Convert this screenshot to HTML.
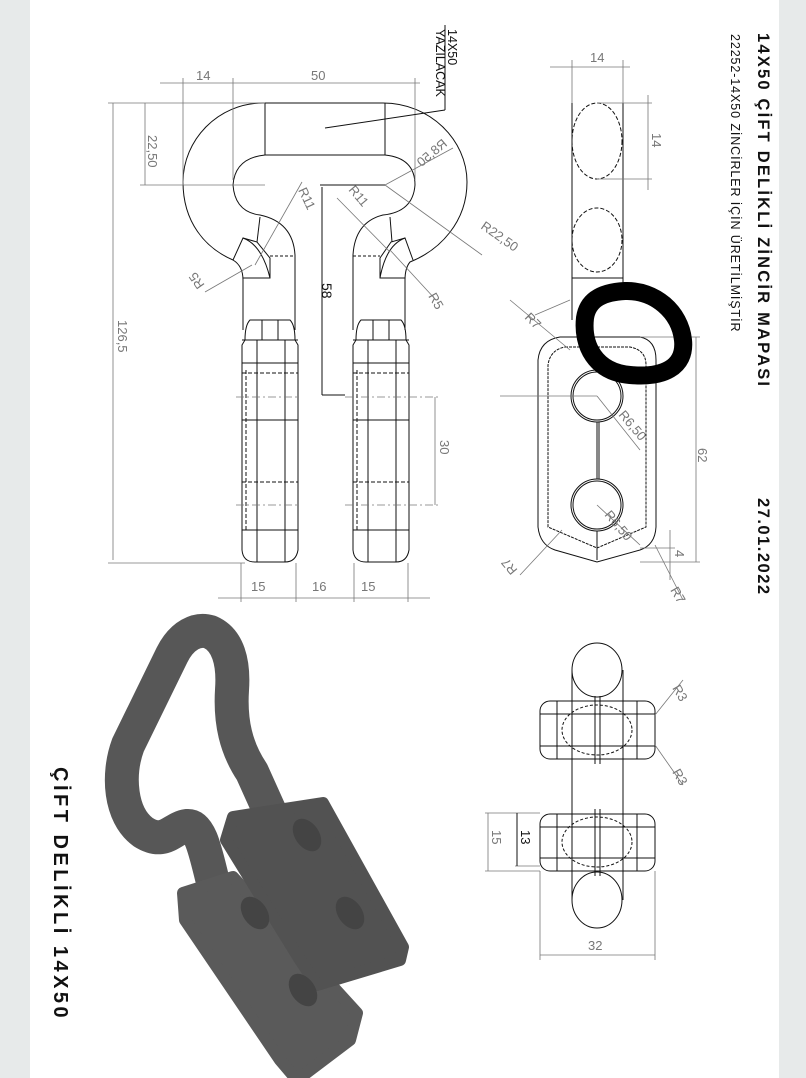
<!DOCTYPE html>
<html><head><meta charset="utf-8"><style>
html,body{margin:0;padding:0;background:#e7eaea;}
svg{display:block}
text{font-family:"Liberation Sans",sans-serif;}
</style></head><body>
<svg width="806" height="1078" viewBox="0 0 806 1078" xmlns="http://www.w3.org/2000/svg">
<rect x="0" y="0" width="806" height="1078" fill="#e7eaea"/>
<rect x="30" y="0" width="749" height="1078" fill="#ffffff"/>

<!-- FRONT VIEW -->
<g fill="none" stroke="#111" stroke-width="1">
  <path d="M263,103 L383,103 C430,103 467,140 467,182 C467,222 440,250 410,262 Q405,268 405,280 L405,330"/>
  <path d="M263,103 C218,103 183,140 183,182 C183,222 205,248 233,260 Q243,266 243,280 L243,330"/>
  <path d="M265,155 L385,155 Q415,158 415,185 Q413,212 383,215 Q355,222 353,255 L353,330"/>
  <path d="M265,155 Q235,158 233,185 Q235,212 260,215 Q293,222 295,255 L295,330"/>
  <line x1="265" y1="103" x2="265" y2="155"/><line x1="385" y1="103" x2="385" y2="155"/>
  <path d="M233,260 L243,238 L257,242 L270,258 L270,278 L243,278"/>
  <path d="M243,238 Q262,245 270,278"/>
  <line x1="260" y1="217" x2="257" y2="242"/>
  <path d="M413,260 L405,238 L391,242 L380,258 L380,278 L405,278"/>
  <path d="M405,238 Q386,245 380,278"/>
  <line x1="390" y1="217" x2="392" y2="242"/>
  <line x1="270" y1="256" x2="295" y2="256" stroke-dasharray="3,2"/><line x1="353" y1="256" x2="380" y2="256" stroke-dasharray="3,2"/>
  <g id="bar">
  <path d="M250,320 L290,320 Q295,325 295,340 L298,345 L298,550 Q296,562 285,562 L255,562 Q243,562 242,550 L242,345 L245,340 Q245,325 250,320 Z"/>
  <line x1="242" y1="340" x2="298" y2="340"/>
  <line x1="257" y1="340" x2="257" y2="562"/><line x1="285" y1="340" x2="285" y2="562"/>
  <line x1="262" y1="320" x2="262" y2="340"/><line x1="278" y1="320" x2="278" y2="340"/>
  <line x1="242" y1="363" x2="298" y2="363"/>
  <line x1="242" y1="420" x2="298" y2="420"/>
  <line x1="242" y1="530" x2="298" y2="530"/>
  <line x1="242" y1="373" x2="298" y2="373" stroke-dasharray="4,2"/>
  <line x1="242" y1="482" x2="298" y2="482" stroke-dasharray="4,2"/>
  <line x1="246" y1="370" x2="246" y2="530" stroke-dasharray="4,2"/>
  </g>
  <use href="#bar" transform="translate(111,0)"/>
</g>
<g fill="none" stroke="#777" stroke-width="0.8">
  <line x1="160" y1="83" x2="420" y2="83"/>
  <line x1="183" y1="78" x2="183" y2="185"/><line x1="233" y1="78" x2="233" y2="180"/><line x1="415" y1="78" x2="415" y2="180"/>
  <line x1="108" y1="103" x2="265" y2="103"/>
  <line x1="113" y1="103" x2="113" y2="560"/><line x1="108" y1="563" x2="245" y2="563"/>
  <line x1="145" y1="103" x2="145" y2="185"/><line x1="140" y1="185" x2="265" y2="185"/>
  <line x1="236" y1="397" x2="300" y2="397" stroke-dasharray="8,3,2,3"/><line x1="345" y1="397" x2="440" y2="397" stroke-dasharray="8,3,2,3"/>
  <line x1="236" y1="505" x2="300" y2="505" stroke-dasharray="8,3,2,3"/><line x1="345" y1="505" x2="440" y2="505" stroke-dasharray="8,3,2,3"/>
  <line x1="435" y1="397" x2="435" y2="505"/>
  <line x1="218" y1="598" x2="430" y2="598"/>
  <line x1="241" y1="563" x2="241" y2="602"/><line x1="296" y1="563" x2="296" y2="602"/><line x1="354" y1="563" x2="354" y2="602"/><line x1="408" y1="563" x2="408" y2="602"/>
  <line x1="385" y1="185" x2="482" y2="255"/><line x1="385" y1="185" x2="453" y2="148"/>
  <line x1="302" y1="182" x2="255" y2="265"/><line x1="205" y1="292" x2="252" y2="265"/>
  <line x1="337" y1="198" x2="390" y2="252"/><line x1="390" y1="250" x2="436" y2="300"/>
</g>
<g fill="none" stroke="#111" stroke-width="1">
  <line x1="320" y1="185" x2="385" y2="185"/><line x1="322" y1="187" x2="322" y2="395"/><line x1="322" y1="395" x2="345" y2="395"/>
  <line x1="325" y1="128" x2="445" y2="110"/><line x1="445" y1="110" x2="445" y2="25"/>
</g>
<g fill="#777" font-size="13">
  <text x="196" y="80">14</text><text x="311" y="80">50</text>
  <text x="251" y="591">15</text><text x="312" y="591">16</text><text x="361" y="591">15</text>
  <text transform="translate(148,135) rotate(90)">22,50</text>
  <text transform="translate(118,320) rotate(90)">126,5</text>
  <text transform="translate(440,440) rotate(90)">30</text>
  <text transform="translate(448,145) rotate(-40) scale(1,-1) rotate(180)">R8,50</text>
  <text transform="translate(480,228) rotate(35)">R22,50</text>
  <text transform="translate(298,190) rotate(65)">R11</text>
  <text transform="translate(348,190) rotate(50)">R11</text>
  <text transform="translate(428,296) rotate(60)">R5</text>
  <text transform="translate(205,285) rotate(-125)">R5</text>
</g>
<text transform="translate(322,283) rotate(90)" font-size="14" fill="#111">58</text>
<text transform="translate(448,29) rotate(90)" font-size="12.5" fill="#111">14X50</text>
<text transform="translate(436,29) rotate(90)" font-size="12.5" fill="#111">YAZILACAK</text>

<!-- SIDE VIEW -->
<g fill="none" stroke="#111" stroke-width="1">
  <line x1="572" y1="103" x2="572" y2="320"/><line x1="623" y1="103" x2="623" y2="290"/>
  <ellipse cx="597" cy="141" rx="25" ry="38" stroke-dasharray="4,2"/>
  <ellipse cx="597" cy="240" rx="25" ry="32" stroke-dasharray="4,2"/>
  <line x1="572" y1="278" x2="623" y2="278"/>
  <path d="M560,337 L640,337 Q656,340 656,360 L656,527 Q655,545 640,550 L597,562 L555,550 Q540,545 538,527 L538,360 Q540,340 560,337 Z"/>
  <path d="M565,347 L630,347 Q646,350 646,365 L646,527 L597,548 L548,527 L548,365 Q550,350 565,347 Z" stroke-dasharray="3,1"/>
  <circle cx="597" cy="396" r="26"/><circle cx="597" cy="396" r="24"/>
  <circle cx="597" cy="505" r="26"/><circle cx="597" cy="505" r="24"/>
  <line x1="597" y1="422" x2="597" y2="479"/><line x1="599" y1="422" x2="599" y2="479"/>
  <line x1="597" y1="531" x2="597" y2="560"/>
</g>
<g fill="none" stroke="#777" stroke-width="0.8">
  <line x1="550" y1="67" x2="630" y2="67"/><line x1="572" y1="60" x2="572" y2="103"/><line x1="623" y1="60" x2="623" y2="103"/>
  <line x1="597" y1="103" x2="652" y2="103"/><line x1="597" y1="179" x2="652" y2="179"/><line x1="648" y1="95" x2="648" y2="190"/>
  <line x1="500" y1="396" x2="597" y2="396"/><line x1="597" y1="396" x2="640" y2="450"/><line x1="597" y1="505" x2="640" y2="545"/>
  <line x1="640" y1="337" x2="700" y2="337"/><line x1="696" y1="337" x2="696" y2="562"/><line x1="640" y1="562" x2="700" y2="562"/>
  <line x1="640" y1="548" x2="675" y2="548"/><line x1="670" y1="530" x2="670" y2="580"/>
  <line x1="520" y1="575" x2="562" y2="530"/><line x1="655" y1="545" x2="683" y2="600"/>
  <line x1="535" y1="315" x2="570" y2="300"/><line x1="510" y1="300" x2="570" y2="350"/>
</g>
<g fill="#777" font-size="13">
  <text x="590" y="62">14</text>
  <text transform="translate(652,133) rotate(90)">14</text>
  <text transform="translate(698,448) rotate(90)">62</text>
  <text transform="translate(675,550) rotate(90)">4</text>
  <text transform="translate(618,415) rotate(50)">R6,50</text>
  <text transform="translate(604,515) rotate(50)">R6,50</text>
  <text transform="translate(524,318) rotate(45)">R7</text>
  <text transform="translate(518,570) rotate(-130)">R7</text>
  <text transform="translate(670,590) rotate(60)">R7</text>
</g>
<path d="M625,291 C655,290 680,312 683,340 C686,368 662,378 630,375 C595,372 582,345 585,318 C588,298 605,292 625,291 Z" fill="none" stroke="#000" stroke-width="18"/>

<!-- BOTTOM VIEW -->
<g fill="none" stroke="#111" stroke-width="1">
  <ellipse cx="597" cy="670" rx="25" ry="27"/>
  <ellipse cx="597" cy="900" rx="25" ry="28"/>
  <line x1="572" y1="670" x2="572" y2="900"/><line x1="623" y1="670" x2="623" y2="900"/>
  <rect x="540" y="701" width="115" height="58" rx="10"/>
  <rect x="540" y="814" width="115" height="57" rx="10"/>
  <line x1="557" y1="701" x2="557" y2="759"/><line x1="637" y1="701" x2="637" y2="759"/>
  <line x1="557" y1="814" x2="557" y2="871"/><line x1="637" y1="814" x2="637" y2="871"/>
  <line x1="540" y1="714" x2="655" y2="714"/><line x1="540" y1="746" x2="655" y2="746"/>
  <line x1="540" y1="827" x2="655" y2="827"/><line x1="540" y1="858" x2="655" y2="858"/>
  <g stroke-dasharray="3,2"><ellipse cx="597" cy="730" rx="35" ry="25"/><ellipse cx="597" cy="842" rx="35" ry="25"/></g>
  <line x1="595" y1="696" x2="595" y2="764"/><line x1="600" y1="696" x2="600" y2="764"/>
  <line x1="595" y1="809" x2="595" y2="876"/><line x1="600" y1="809" x2="600" y2="876"/>
</g>
<g fill="none" stroke="#777" stroke-width="0.8">
  <line x1="540" y1="871" x2="540" y2="960"/><line x1="655" y1="871" x2="655" y2="960"/><line x1="540" y1="955" x2="655" y2="955"/>
  <line x1="485" y1="813" x2="540" y2="813"/><line x1="485" y1="871" x2="540" y2="871"/><line x1="488" y1="813" x2="488" y2="871"/>
  <line x1="515" y1="866" x2="540" y2="866"/>
  <line x1="655" y1="715" x2="683" y2="680"/><line x1="655" y1="745" x2="683" y2="785"/>
</g>
<line x1="517" y1="813" x2="517" y2="866" stroke="#111" stroke-width="1"/>
<g fill="#777" font-size="13">
  <text x="588" y="950">32</text>
  <text transform="translate(492,830) rotate(90)">15</text>
  <text transform="translate(521,830) rotate(90)" fill="#111">13</text>
  <text transform="translate(672,688) rotate(60)">R3</text>
  <text transform="translate(672,772) rotate(60)">R3</text>
</g>

<!-- 3D render -->
<path d="M212,878 C205,850 200,825 187,826 C172,828 165,846 143,832 C120,815 117,775 128,745 L172,655 C182,635 197,628 210,632 C228,640 234,662 232,690 C230,722 236,748 252,772 L270,812" fill="none" stroke="#575757" stroke-width="34" stroke-linecap="round" stroke-linejoin="round"/>
<polygon points="183,893 233,877 357,1013 350,1040 297,1080 280,1060 185,920" fill="#5a5a5a" stroke="#5a5a5a" stroke-width="12" stroke-linejoin="round"/>
<polygon points="233,817 323,803 403,947 400,960 317,985 300,960 226,840" fill="#525252" stroke="#525252" stroke-width="12" stroke-linejoin="round"/>
<g fill="#444">
 <ellipse cx="307" cy="835" rx="12" ry="18" transform="rotate(-35 307 835)"/>
 <ellipse cx="350" cy="913" rx="12" ry="18" transform="rotate(-35 350 913)"/>
 <ellipse cx="255" cy="913" rx="12" ry="18" transform="rotate(-35 255 913)"/>
 <ellipse cx="303" cy="990" rx="12" ry="18" transform="rotate(-35 303 990)"/>
</g>

<!-- titles -->
<text transform="translate(758,33) rotate(90)" font-size="16.5" font-weight="bold" fill="#111" letter-spacing="2.2">14X50 ÇİFT DELİKLİ ZİNCİR MAPASI</text>
<text transform="translate(758,498) rotate(90)" font-size="16.5" font-weight="bold" fill="#111" letter-spacing="1.5">27.01.2022</text>
<text transform="translate(731,34) rotate(90)" font-size="12.5" fill="#111" letter-spacing="0.9">22252-14X50 ZİNCİRLER İÇİN ÜRETİLMİŞTİR</text>
<text transform="translate(54,767) rotate(90)" font-size="20" font-weight="bold" fill="#111" letter-spacing="3.5">ÇİFT DELİKLİ 14X50</text>
</svg>
</body></html>
